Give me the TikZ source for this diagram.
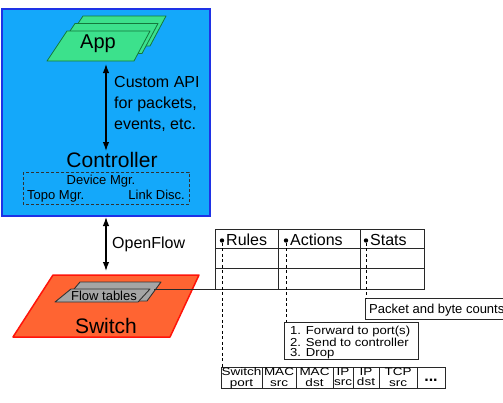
\documentclass[tikz,border=0pt]{standalone}
\usepackage{fontspec}
\setmainfont{Liberation Sans}
\newfontfamily\widecell[FakeStretch=1.25]{Liberation Sans}
\newfontfamily\widefwd[FakeStretch=1.13]{Liberation Sans}
\usetikzlibrary{arrows.meta}
\definecolor{ctrlfill}{RGB}{20,168,250}
\definecolor{ctrlline}{RGB}{30,50,230}
\definecolor{appfill}{RGB}{60,225,140}
\definecolor{appline}{RGB}{20,120,60}
\definecolor{swfill}{RGB}{255,100,50}
\definecolor{swline}{RGB}{255,20,10}
\definecolor{ftfill}{RGB}{165,165,165}
\definecolor{ftline}{RGB}{50,50,50}
\definecolor{tabline}{RGB}{40,40,40}
\tikzset{
  lbl/.style={inner sep=0pt, anchor=base west},
  lblc/.style={inner sep=0pt, anchor=base},
  lble/.style={inner sep=0pt, anchor=base east},
  bigfont/.style={font=\fontsize{21}{24}\selectfont},
  medfont/.style={font=\fontsize{16}{19}\selectfont},
  smfont/.style={font=\fontsize{13}{15}\selectfont},
  cellfont/.style={font=\widecell\fontsize{10.8}{10.4}\selectfont},
  celltext/.style={cellfont, inner sep=0pt, anchor=north, align=center},
  ctrlbox/.style={draw=ctrlline, fill=ctrlfill, line width=2pt},
  applayer/.style={draw=appline, fill=appfill, line width=0.8pt, line join=round},
  swshape/.style={draw=swline, fill=swfill, line width=1.5pt, line join=round},
  ftshape/.style={draw=ftline, fill=ftfill, line width=0.9pt, line join=round},
  dblarrow/.style={line width=1.3pt, {Latex[length=9pt,width=6.5pt]}-{Latex[length=9pt,width=6.5pt]}},
  dashbox/.style={draw=ftline, dash pattern=on 3pt off 2pt, line width=0.7pt},
  tab/.style={draw=tabline, line width=1pt},
  dashline/.style={draw=black, dash pattern=on 3pt off 2.5pt, line width=1pt},
  bullet/.style={circle, fill=black, inner sep=0pt, minimum size=4.4pt}
}
\begin{document}
\begin{tikzpicture}[x=1pt,y=-1pt]
\useasboundingbox (0,0) rectangle (503,402);
\fill[white] (0,0) rectangle (503,402);

% Controller box
\draw[ctrlbox] (2,9) rectangle (210,216);

% App layers
\foreach \dx/\dy in {16/-15,8/-7.5,0/0}
  \draw[applayer] (47+\dx,61+\dy) -- (67+\dx,31+\dy) -- (150+\dx,31+\dy) -- (134+\dx,61+\dy) -- cycle;
\node[lblc, font=\fontsize{20}{23}\selectfont] (app) at (98,48) {App};

% Custom API text
\node[lbl, medfont] (api1) at (114,87) {Custom API};
\node[lbl, medfont] (api2) at (114,108) {for packets,};
\node[lbl, medfont] (api3) at (114,129) {events, etc.};

% Controller
\node[lblc, bigfont] (ctrl) at (112,167) {Controller};
\draw[dashbox] (23,172) rectangle (189,204);
\node[lblc, smfont] (dev) at (101,184) {Device Mgr.};
\node[lbl, smfont] (topo) at (27,199) {Topo Mgr.};
\node[lble, smfont] (link) at (185,199) {Link Disc.};

% App <-> Controller arrow
\coordinate (appB) at (106,64);
\coordinate (ctrlT) at (106,151);
\draw[dblarrow] (appB) -- (ctrlT);

% OpenFlow arrow
\coordinate (ctrlB) at (106,217);
\coordinate (swT) at (106,271);
\draw[dblarrow] (ctrlB) -- (swT);
\node[lbl, medfont] (of) at (112,248) {OpenFlow};

% Switch
\draw[swshape] (13,337) -- (53,275) -- (199,275) -- (170,337) -- cycle;
\node[lblc, bigfont] (sw) at (106,333) {Switch};

% Flow tables
\draw[ftshape] (64,301) -- (80,282) -- (161,282) -- (147,301) -- cycle;
\draw[ftshape] (55,302) -- (71,289) -- (150,289) -- (138,302) -- cycle;
\node[lblc, smfont] (ft) at (104,300) {Flow tables};

% Table
\draw[tab] (215,229) rectangle (424,289);
\draw[tab] (215,248) -- (424,248);
\draw[tab] (215,268) -- (424,268);
\draw[tab] (278,229) -- (278,289);
\draw[tab] (360,229) -- (360,289);
\coordinate (ftR) at (154,289);
\coordinate (tabBL) at (215,289);
\draw[tab] (ftR) -- (tabBL);

\node[bullet] (b1) at (222,240.5) {};
\node[bullet] (b2) at (286,240.5) {};
\node[bullet] (b3) at (366,240.5) {};
\node[lbl, medfont] (rules) at (226,245) {Rules};
\node[lbl, medfont] (acts) at (290,245) {Actions};
\node[lbl, medfont] (stats) at (370,245) {Stats};

% Packet box
\draw[tab] (365,298) rectangle (515,319);
\node[lbl, smfont] (pkt) at (369,313) {Packet and byte counts};
\coordinate (pktT) at (366,298);

% Forward box
\draw[tab] (284,322) rectangle (418,359);
\coordinate (fwdT) at (286,322);
\node[inner sep=0pt, anchor=north west, align=left, font=\widefwd\fontsize{11.6}{10.3}\selectfont] (fwd) at (290,325.7)
  {1. Forward to port(s)\\2. Send to controller\\3. Drop};

% Fields
\draw[tab] (221,367) rectangle (445,388);
\foreach \x in {262,296,333,353,379,417}
  \draw[tab] (\x,367) -- (\x,388);
\coordinate (fldT) at (222,367);
\foreach \x/\a/\b [count=\i] in {241.5/Switch/port,279/MAC/src,314.5/MAC/dst,343/IP/src,366/IP/dst,398/TCP/src}{
  \node[celltext] (fld\i) at (\x,367.9) {\a\\\b};
}
\node[lblc, font=\fontsize{16}{18}\selectfont\bfseries] (dots) at (431,381) {...};

% Dashed lines
\draw[dashline] (b1) -- (fldT);
\draw[dashline] (b2) -- (fwdT);
\draw[dashline] (b3) -- (pktT);
\end{tikzpicture}
\end{document}
